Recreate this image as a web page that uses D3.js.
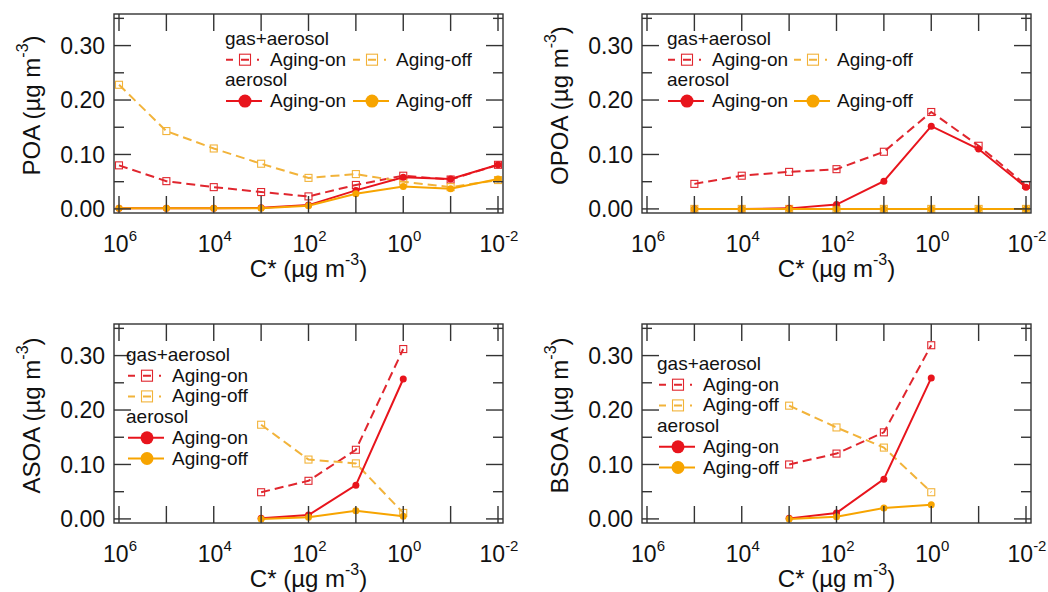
<!DOCTYPE html>
<html>
<head>
<meta charset="utf-8">
<script src="https://cdn.jsdelivr.net/npm/d3@7"></script>
<style>
  body { margin: 0; background: #fff; }
  svg text { font-family: "Liberation Sans", Arial, sans-serif; fill: #111; }
</style>
</head>
<body>
<svg id="chart" width="1048" height="592"></svg>
<script>
// C* bins (ug m-3)
const cstarPOA = [1e6, 1e5, 1e4, 1e3, 1e2, 1e1, 1e0, 1e-1, 1e-2];
const cstarOPOA = [1e5, 1e4, 1e3, 1e2, 1e1, 1e0, 1e-1, 1e-2];
const cstarSOA = [1e3, 1e2, 1e1, 1e0];

const xTickValues = [1e6, 1e5, 1e4, 1e3, 1e2, 1e1, 1e0, 1e-1, 1e-2];
const xLabelExps = [6, 4, 2, 0, -2];
const yMajor = [0, 0.1, 0.2, 0.3];
const yMinor = [0.05, 0.15, 0.25, 0.35];

// POA
const poaGasOn  = [0.080, 0.051, 0.040, 0.031, 0.023, 0.044, 0.061, 0.054, 0.081];
const poaGasOff = [0.228, 0.143, 0.111, 0.083, 0.057, 0.064, 0.050, 0.040, 0.053];
const poaAerOn  = [0.001, 0.001, 0.001, 0.002, 0.007, 0.034, 0.058, 0.055, 0.081];
const poaAerOff = [0.001, 0.001, 0.001, 0.001, 0.006, 0.028, 0.041, 0.037, 0.055];

// OPOA
const opoaGasOn  = [0.046, 0.061, 0.068, 0.073, 0.105, 0.178, 0.116, 0.044];
const opoaGasOff = [0, 0, 0, 0, 0, 0, 0, 0];
const opoaAerOn  = [0.000, 0.000, 0.001, 0.008, 0.051, 0.152, 0.110, 0.040];
const opoaAerOff = [0, 0, 0, 0, 0, 0, 0, 0];

// ASOA
const asoaGasOn  = [0.049, 0.070, 0.127, 0.312];
const asoaGasOff = [0.173, 0.109, 0.102, 0.011];
const asoaAerOn  = [0.001, 0.007, 0.062, 0.257];
const asoaAerOff = [0.000, 0.003, 0.015, 0.005];

// BSOA
const bsoaGasOn  = [0.100, 0.120, 0.159, 0.319];
const bsoaGasOff = [0.208, 0.168, 0.131, 0.049];
const bsoaAerOn  = [0.001, 0.011, 0.073, 0.259];
const bsoaAerOff = [0.000, 0.004, 0.020, 0.026];

const red = "#e8141c";
const redDash = "#e0262e";
const orange = "#f7a400";
const orangeDash = "#f2b33a";

const panels = [
  { name: "POA", x: cstarPOA, gasOn: poaGasOn, gasOff: poaGasOff, aerOn: poaAerOn, aerOff: poaAerOff,
    left: 114, top: 14, legend: { wide: true, x: 225, y: 45, x2: 353 } },
  { name: "OPOA", x: cstarOPOA, gasOn: opoaGasOn, gasOff: opoaGasOff, aerOn: opoaAerOn, aerOff: opoaAerOff,
    left: 642, top: 14, legend: { wide: true, x: 667, y: 45, x2: 794 } },
  { name: "ASOA", x: cstarSOA, gasOn: asoaGasOn, gasOff: asoaGasOff, aerOn: asoaAerOn, aerOff: asoaAerOff,
    left: 114, top: 324, legend: { wide: false, x: 126, y: 361 } },
  { name: "BSOA", x: cstarSOA, gasOn: bsoaGasOn, gasOff: bsoaGasOff, aerOn: bsoaAerOn, aerOff: bsoaAerOff,
    left: 642, top: 324, legend: { wide: false, x: 657, y: 370 } }
];

const pw = 389, ph = 199;
const svg = d3.select("#chart");

panels.forEach(p => {
  const g = svg.append("g");
  const right = p.left + pw, bottom = p.top + ph;

  const x = d3.scaleLog().domain([1e6, 1e-2]).range([p.left + 5, right - 5]);
  const y = d3.scaleLinear().domain([-0.0075, 0.358]).range([bottom, p.top]);

  // series: gas+aerosol dashed / open squares, aerosol solid / dots
  const series = [
    { vals: p.gasOn,  color: redDash,    dash: "9,5", marker: "square" },
    { vals: p.gasOff, color: orangeDash, dash: "9,5", marker: "square" },
    { vals: p.aerOn,  color: red,        dash: null,  marker: "circle" },
    { vals: p.aerOff, color: orange,     dash: null,  marker: "circle" }
  ];

  const line = d3.line().x(d => x(d[0])).y(d => y(d[1]));

  series.forEach(s => {
    const pts = p.x.map((c, i) => [c, s.vals[i]]);
    g.append("path")
      .datum(pts)
      .attr("d", line)
      .attr("fill", "none")
      .attr("stroke", s.color)
      .attr("stroke-width", 2)
      .attr("stroke-dasharray", s.dash);
    if (s.marker === "square") {
      g.selectAll(null).data(pts).enter().append("rect")
        .attr("x", d => x(d[0]) - 3.5)
        .attr("y", d => y(d[1]) - 3.5)
        .attr("width", 7).attr("height", 7)
        .attr("fill", "none")
        .attr("stroke", s.color)
        .attr("stroke-width", 1.1);
    } else {
      g.selectAll(null).data(pts).enter().append("circle")
        .attr("cx", d => x(d[0]))
        .attr("cy", d => y(d[1]))
        .attr("r", 3.5)
        .attr("fill", s.color);
    }
  });

  // frame
  g.append("rect")
    .attr("x", p.left).attr("y", p.top)
    .attr("width", pw).attr("height", ph)
    .attr("fill", "none")
    .attr("stroke", "#333")
    .attr("stroke-width", 1.4);

  // x ticks (inside, top and bottom)
  xTickValues.forEach(v => {
    g.append("line").attr("x1", x(v)).attr("x2", x(v))
      .attr("y1", p.top).attr("y2", p.top + 17)
      .attr("stroke", "#333").attr("stroke-width", 1.4);
    g.append("line").attr("x1", x(v)).attr("x2", x(v))
      .attr("y1", bottom).attr("y2", bottom - 17)
      .attr("stroke", "#333").attr("stroke-width", 1.4);
  });

  // y ticks both sides
  const yt = yMajor.map(v => [v, 17]).concat(yMinor.map(v => [v, 10]));
  yt.forEach(([v, len]) => {
    g.append("line").attr("x1", p.left).attr("x2", p.left + len)
      .attr("y1", y(v)).attr("y2", y(v))
      .attr("stroke", "#333").attr("stroke-width", 1.4);
    g.append("line").attr("x1", right).attr("x2", right - len)
      .attr("y1", y(v)).attr("y2", y(v))
      .attr("stroke", "#333").attr("stroke-width", 1.4);
  });

  // y tick labels
  yMajor.forEach(v => {
    g.append("text")
      .attr("x", p.left - 9)
      .attr("y", y(v))
      .attr("dy", "0.36em")
      .attr("text-anchor", "end")
      .style("font-size", "23px")
      .text(d3.format(".2f")(v));
  });

  // x tick labels 10^n
  xLabelExps.forEach(e => {
    const t = g.append("text")
      .attr("x", x(Math.pow(10, e)) + 1)
      .attr("y", bottom + 39)
      .attr("text-anchor", "middle")
      .style("font-size", "23px");
    t.append("tspan").text("10");
    t.append("tspan").attr("dy", -11).style("font-size", "15px").text(e);
  });

  // x title
  const xt = g.append("text")
    .attr("x", p.left + pw / 2)
    .attr("y", bottom + 64)
    .attr("text-anchor", "middle")
    .style("font-size", "24px");
  xt.append("tspan").text("C* (\u00b5g m");
  xt.append("tspan").attr("dy", -12).style("font-size", "16px").text("-3");
  xt.append("tspan").attr("dy", 12).text(")");

  // y title
  const ytl = g.append("text")
    .attr("transform", `translate(${p.left - 74}, ${p.top + ph / 2 - 8}) rotate(-90)`)
    .attr("text-anchor", "middle")
    .style("font-size", "24px");
  ytl.append("tspan").text(p.name + " (\u00b5g m");
  ytl.append("tspan").attr("dy", -12).style("font-size", "16px").text("-3");
  ytl.append("tspan").attr("dy", 12).text(")");

  // legend
  const L = p.legend;
  const lg = g.append("g");
  const rowH = 20.7;
  const lab = (tx, ty, s) => lg.append("text").attr("x", tx).attr("y", ty).style("font-size", "19px").text(s);

  const gasSample = (sx, sy, color) => {
    lg.append("line").attr("x1", sx).attr("x2", sx + 36).attr("y1", sy).attr("y2", sy)
      .attr("stroke", color).attr("stroke-width", 2)
      .attr("stroke-dasharray", "7,8,8,8,2,10");
    lg.append("rect").attr("x", sx + 13.5).attr("y", sy - 5.5).attr("width", 11).attr("height", 11)
      .attr("fill", "none").attr("stroke", color).attr("stroke-width", 1.1);
  };
  const aerSample = (sx, sy, color) => {
    lg.append("line").attr("x1", sx).attr("x2", sx + 36).attr("y1", sy).attr("y2", sy)
      .attr("stroke", color).attr("stroke-width", 2);
    lg.append("circle").attr("cx", sx + 19).attr("cy", sy).attr("r", 6.5).attr("fill", color);
  };

  if (L.wide) {
    lab(L.x, L.y, "gas+aerosol");
    gasSample(L.x + 1, L.y + rowH - 6, redDash);
    lab(L.x + 45, L.y + rowH, "Aging-on");
    gasSample(L.x2, L.y + rowH - 6, orangeDash);
    lab(L.x2 + 43, L.y + rowH, "Aging-off");
    lab(L.x, L.y + 2 * rowH, "aerosol");
    aerSample(L.x + 1, L.y + 3 * rowH - 6, red);
    lab(L.x + 45, L.y + 3 * rowH, "Aging-on");
    aerSample(L.x2, L.y + 3 * rowH - 6, orange);
    lab(L.x2 + 43, L.y + 3 * rowH, "Aging-off");
  } else {
    lab(L.x, L.y, "gas+aerosol");
    gasSample(L.x + 2, L.y + rowH - 6, redDash);
    lab(L.x + 46, L.y + rowH, "Aging-on");
    gasSample(L.x + 2, L.y + 2 * rowH - 6, orangeDash);
    lab(L.x + 46, L.y + 2 * rowH, "Aging-off");
    lab(L.x, L.y + 3 * rowH, "aerosol");
    aerSample(L.x + 2, L.y + 4 * rowH - 6, red);
    lab(L.x + 46, L.y + 4 * rowH, "Aging-on");
    aerSample(L.x + 2, L.y + 5 * rowH - 6, orange);
    lab(L.x + 46, L.y + 5 * rowH, "Aging-off");
  }
});
</script>
</body>
</html>
